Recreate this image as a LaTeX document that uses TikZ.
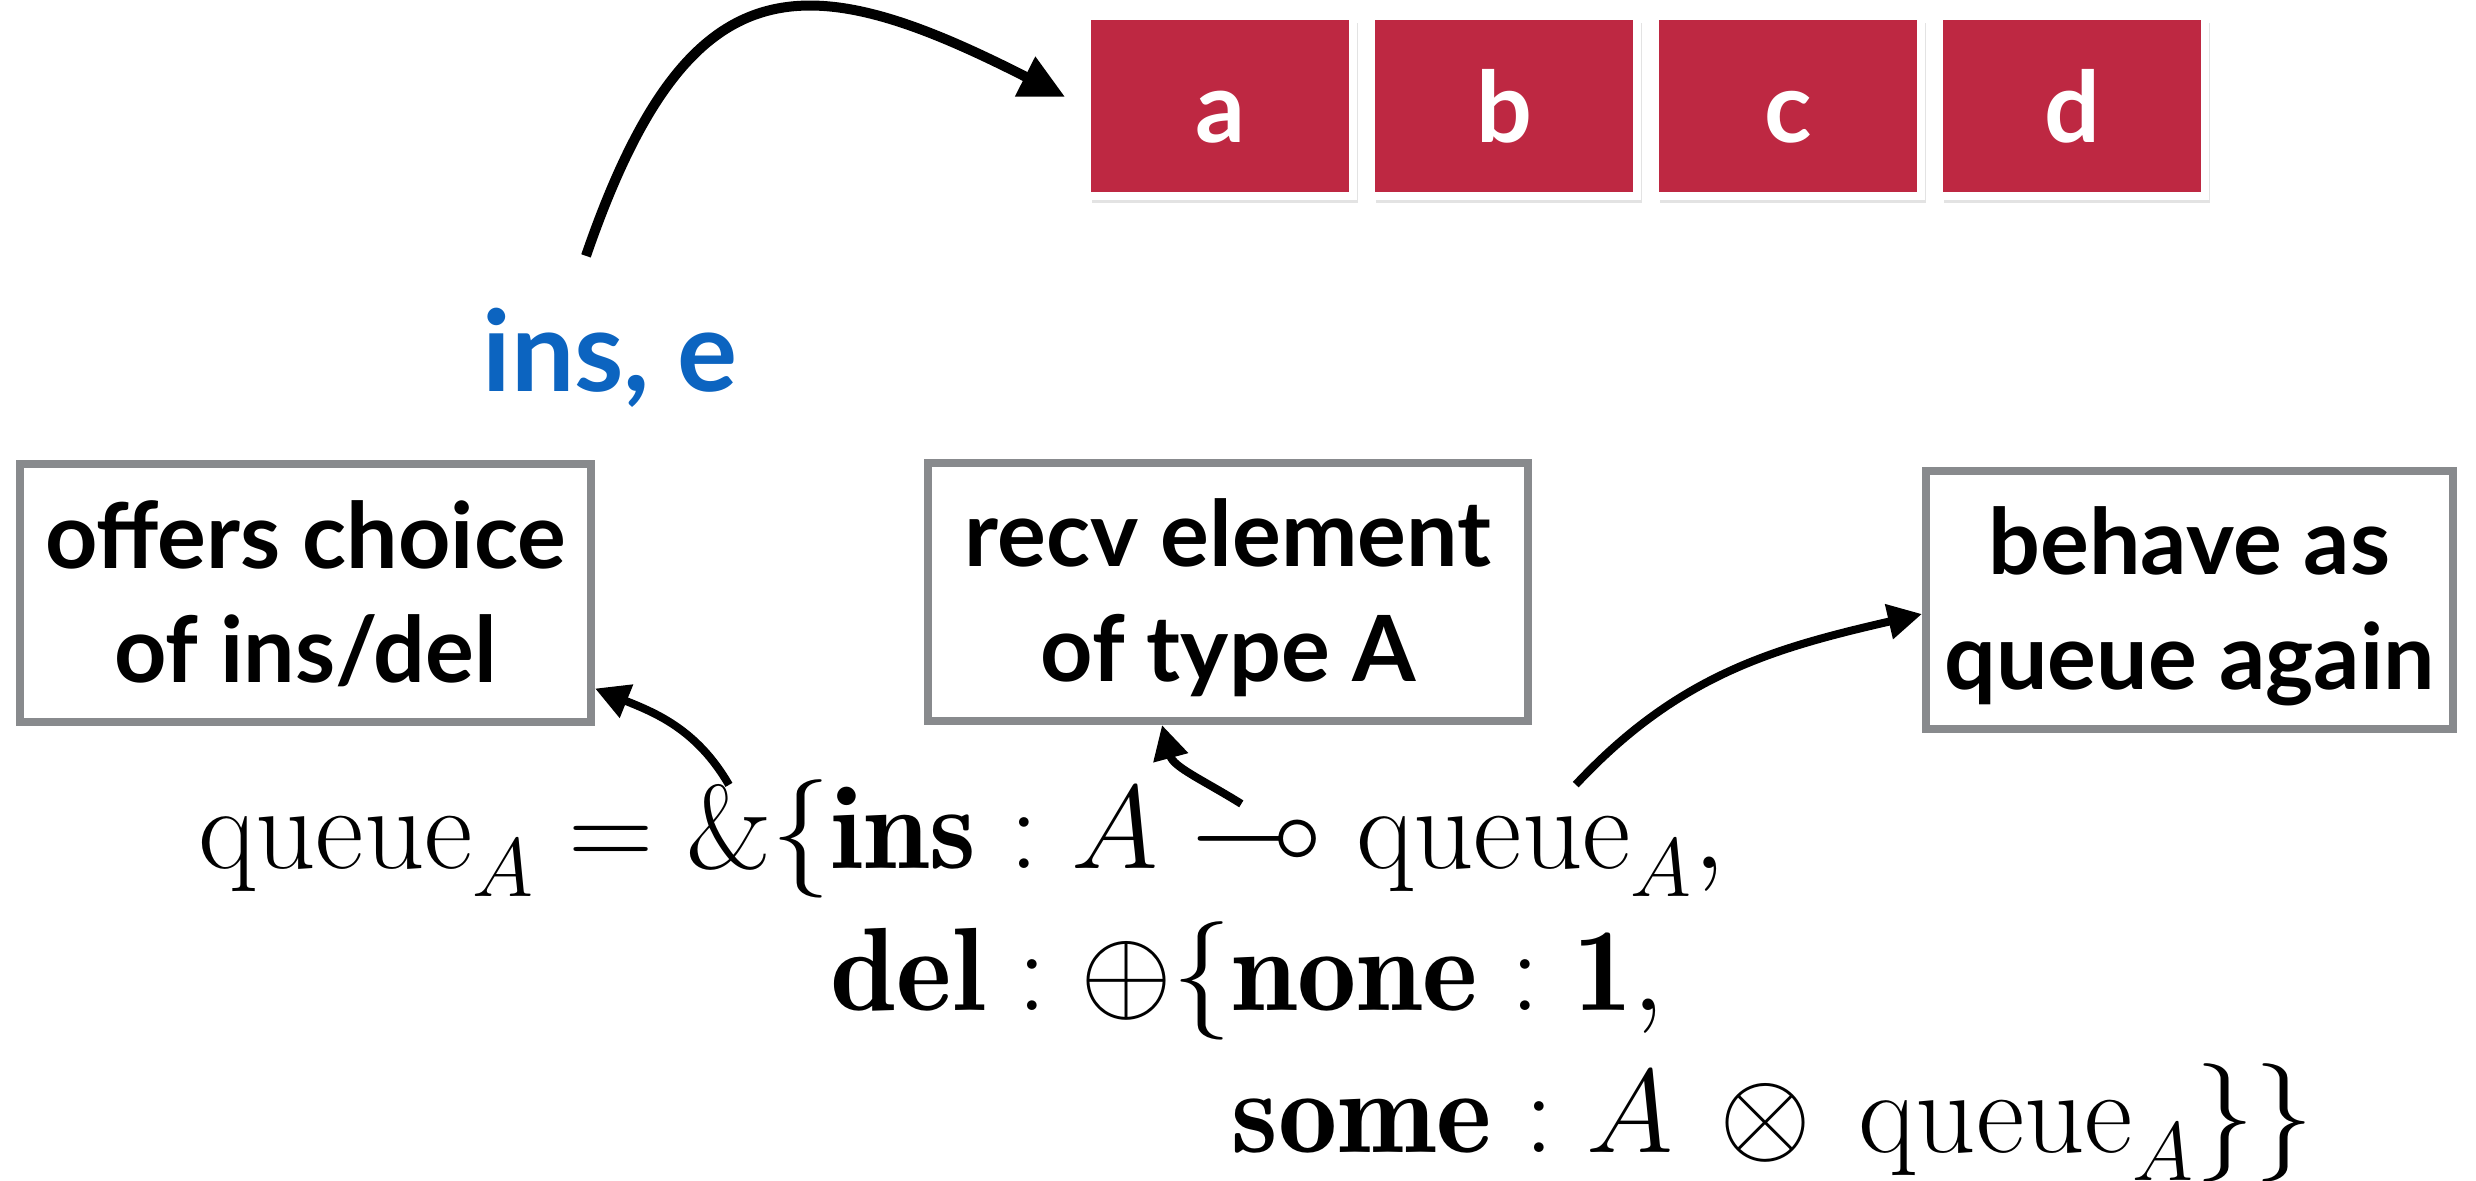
\RequirePackage{fix-cm}
\documentclass[tikz,border=0pt]{standalone}
\usepackage{amsmath, amssymb}
\usepackage{fontspec}
\usetikzlibrary{positioning, arrows.meta, shadows}

\newfontfamily\labelfont{Lato}
% msam at any size (for \multimap)
\DeclareFontFamily{U}{msa}{}
\DeclareFontShape{U}{msa}{m}{n}{<-> msam10}{}

\definecolor{cellred}{RGB}{190,40,66}
\definecolor{msgblue}{RGB}{12,100,192}
\definecolor{noteframe}{RGB}{136,138,141}

\newcommand{\nstrut}{\rule[-0.25cm]{0pt}{1.14cm}}

\tikzset{
  cell/.style={draw=white, line width=0.08cm, fill=cellred, text=white,
    minimum width=2.66cm, minimum height=1.80cm, inner sep=0pt,
    font=\labelfont\bfseries\fontsize{28}{28}\selectfont,
    text height=0.74cm, text depth=0pt,
    drop shadow={opacity=0.22, shadow xshift=0.05cm, shadow yshift=-0.07cm}},
  note/.style={draw=noteframe, line width=0.08cm, inner sep=0pt, align=center,
    minimum height=2.58cm, font=\labelfont\bfseries\fontsize{26}{32.7}\selectfont},
  term/.style={inner sep=0pt, outer sep=0pt, anchor=base west,
    font=\fontsize{33.7}{40}\selectfont},
  link/.style={-{Triangle[length=0.34cm, width=0.34cm]}, line width=0.08cm},
}

\begin{document}
\begin{tikzpicture}
\useasboundingbox (0,0) rectangle (24.76,11.81);

% Queue cells (top row)
\node[cell] (qa) at (12.20,10.75) {a};
\node[cell, right=0.1cm of qa] (qb) {b};
\node[cell, right=0.1cm of qb] (qc) {c};
\node[cell, right=0.1cm of qc] (qd) {d};

% Incoming message
\node[font=\labelfont\bfseries\fontsize{32}{32}\selectfont, text=msgblue,
  inner sep=0pt, anchor=base] (insmsg) at (6.10,7.89) {ins, e};
\draw[-{Triangle[length=0.45cm, width=0.42cm]}, line width=0.1cm, shorten >=0.2cm]
  ([shift={(-0.24,0.52)}]insmsg.north) to[out=71, in=153, looseness=1.55] (qa.west);

% Notes
\node[note, minimum width=5.71cm] (offer) at (3.055,5.875)
  {\nstrut offers choice\\\nstrut of ins/del};
\node[note, minimum width=6.00cm] (recv) at (12.28,5.89)
  {\nstrut recv element\\\nstrut of type A};
\node[note, minimum width=5.27cm] (again) at (21.895,5.81)
  {\nstrut behave as\\\nstrut queue again};

% Type definition, one piece at a time
\node[term] (lhs) at (1.98,3.12) {$\mathrm{queue}_A = {}$};
\node[term] (withop) at (lhs.base east) {$\&$};
\node[term] (lbr) at (withop.base east) {$\{$};
\node[term] (insl) at (lbr.base east) {$\mathbf{ins} : A$};
\node[term] (lolli) at (insl.base east) {${}\multimap{}$};
\node[term] (cont) at (lolli.base east) {$\mathrm{queue}_A,$};
\node[term] (dell) at ([yshift=-1.42cm]insl.base west) {$\mathbf{del} : \oplus\{$};
\node[term] (nonel) at (dell.base east) {$\mathbf{none} : \mathbf{1},$};
\node[term] (somel) at ([yshift=-1.42cm]nonel.base west)
  {$\mathbf{some} : A \mathbin{\,\otimes\,} \mathrm{queue}_A\}\}$};

% Pointers to the notes
\draw[link] (withop.north) to[out=120, in=-22] ([yshift=0.38cm]offer.south east);
\draw[link] ([xshift=-0.16cm]lolli.north) to[out=148, in=-75] ([xshift=-0.66cm]recv.south);
\draw[link] ([shift={(0.35,0.32)}]cont.north) to[out=47, in=193] ([yshift=-0.14cm]again.west);

\end{tikzpicture}
\end{document}
